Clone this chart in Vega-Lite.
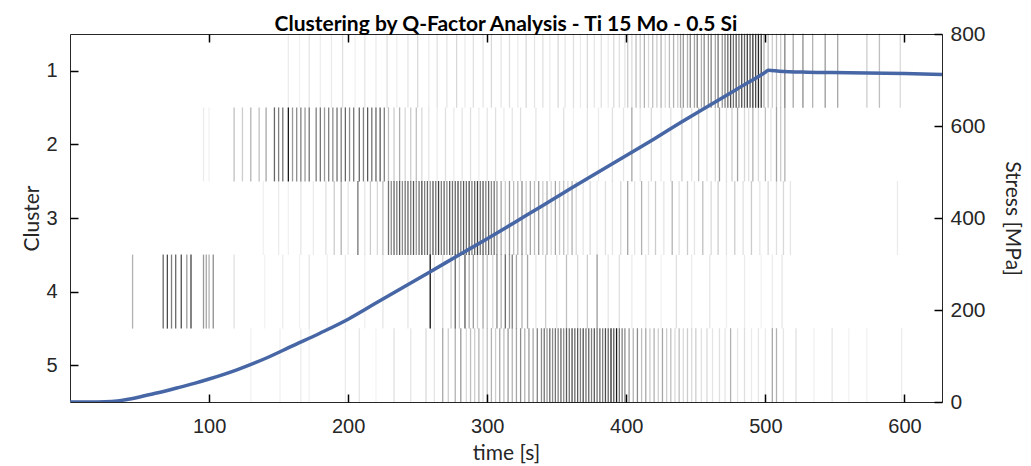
{
  "$schema": "https://vega.github.io/schema/vega-lite/v6.json",
  "width": 872,
  "height": 368,
  "autosize": {"type": "none"},
  "padding": {"left": 70, "top": 34, "right": 89, "bottom": 64},
  "background": "white",
  "config": {"view": {"stroke": "#262626", "strokeWidth": 1}},
  "title": {"text": "Clustering by Q-Factor Analysis - Ti 15 Mo - 0.5 Si", "font": "Lato", "fontWeight": "bold", "fontSize": 21, "color": "#000000", "anchor": "middle", "offset": 4, "dy": 16},
  "datasets": {
    "v": [
      {"c":1,"t":157,"a":0.08},{"c":1,"t":165,"a":0.06},{"c":1,"t":172,"a":0.1},{"c":1,"t":180,"a":0.07},{"c":1,"t":188,"a":0.08},{"c":1,"t":196,"a":0.12},{"c":1,"t":205,"a":0.06},{"c":1,"t":212,"a":0.1},{"c":1,"t":220,"a":0.08},{"c":1,"t":228,"a":0.12},{"c":1,"t":235,"a":0.07},{"c":1,"t":243,"a":0.1},{"c":1,"t":250,"a":0.15},{"c":1,"t":258,"a":0.08},{"c":1,"t":264,"a":0.12},{"c":1,"t":271,"a":0.1},{"c":1,"t":278,"a":0.15},{"c":1,"t":284,"a":0.08},{"c":1,"t":290,"a":0.12},{"c":1,"t":297,"a":0.1},{"c":1,"t":303,"a":0.15},{"c":1,"t":310,"a":0.1},{"c":1,"t":316,"a":0.12},{"c":1,"t":322,"a":0.08},{"c":1,"t":328,"a":0.15},{"c":1,"t":334,"a":0.1},{"c":1,"t":340,"a":0.12},{"c":1,"t":345,"a":0.08},{"c":1,"t":351,"a":0.15},{"c":1,"t":356,"a":0.1},{"c":1,"t":362,"a":0.12},{"c":1,"t":367,"a":0.08},{"c":1,"t":372,"a":0.15},{"c":1,"t":377,"a":0.1},{"c":1,"t":382,"a":0.12},{"c":1,"t":387,"a":0.08},{"c":1,"t":391,"a":0.15},{"c":1,"t":395,"a":0.12},{"c":1,"t":399,"a":0.1},
      {"c":1,"t":401,"a":0.2},{"c":1,"t":404,"a":0.15},{"c":1,"t":407,"a":0.25},{"c":1,"t":410,"a":0.2},{"c":1,"t":413,"a":0.3},{"c":1,"t":416,"a":0.15},{"c":1,"t":419,"a":0.25},{"c":1,"t":422,"a":0.2},{"c":1,"t":425,"a":0.3},{"c":1,"t":428,"a":0.15},{"c":1,"t":431,"a":0.25},{"c":1,"t":434,"a":0.3},{"c":1,"t":437,"a":0.2},
      {"c":1,"t":439,"a":0.35},{"c":1,"t":441,"a":0.4},{"c":1,"t":444,"a":0.3},{"c":1,"t":446,"a":0.45},{"c":1,"t":449,"a":0.35},{"c":1,"t":451,"a":0.5},{"c":1,"t":454,"a":0.3},{"c":1,"t":456,"a":0.45},{"c":1,"t":459,"a":0.4},{"c":1,"t":461,"a":0.5},{"c":1,"t":464,"a":0.35},{"c":1,"t":466,"a":0.55},{"c":1,"t":469,"a":0.4},{"c":1,"t":471,"a":0.5},
      {"c":1,"t":473,"a":0.6},{"c":1,"t":475,"a":0.7},{"c":1,"t":477,"a":0.55},{"c":1,"t":479,"a":0.65},{"c":1,"t":481,"a":0.5},{"c":1,"t":483,"a":0.7},{"c":1,"t":485,"a":0.6},{"c":1,"t":487,"a":0.75},{"c":1,"t":489,"a":0.65},{"c":1,"t":491,"a":0.8},{"c":1,"t":493,"a":0.7},{"c":1,"t":495,"a":0.85},{"c":1,"t":497,"a":0.75},
      {"c":1,"t":499,"a":0.3},{"c":1,"t":502,"a":0.25},{"c":1,"t":505,"a":0.2},{"c":1,"t":508,"a":0.25},{"c":1,"t":511,"a":0.2},
      {"c":1,"t":514,"a":0.5},{"c":1,"t":520,"a":0.35},{"c":1,"t":527,"a":0.45},{"c":1,"t":534,"a":0.3},{"c":1,"t":543,"a":0.4},{"c":1,"t":552,"a":0.35},{"c":1,"t":573,"a":0.2},{"c":1,"t":582,"a":0.25},{"c":1,"t":597,"a":0.15},

      {"c":2,"t":96,"a":0.08},{"c":2,"t":100,"a":0.06},{"c":2,"t":118,"a":0.25},{"c":2,"t":124,"a":0.2},{"c":2,"t":130,"a":0.3},{"c":2,"t":136,"a":0.25},{"c":2,"t":141,"a":0.35},
      {"c":2,"t":147,"a":0.6},{"c":2,"t":150,"a":0.5},{"c":2,"t":153,"a":0.55},{"c":2,"t":157,"a":0.9},{"c":2,"t":160,"a":0.4},{"c":2,"t":163,"a":0.45},{"c":2,"t":166,"a":0.5},{"c":2,"t":169,"a":0.4},{"c":2,"t":172,"a":0.55},
      {"c":2,"t":177,"a":0.5},{"c":2,"t":180,"a":0.55},{"c":2,"t":183,"a":0.4},{"c":2,"t":186,"a":0.5},{"c":2,"t":189,"a":0.45},{"c":2,"t":192,"a":0.55},{"c":2,"t":195,"a":0.5},{"c":2,"t":198,"a":0.6},{"c":2,"t":201,"a":0.45},{"c":2,"t":204,"a":0.55},{"c":2,"t":208,"a":0.6},{"c":2,"t":211,"a":0.5},{"c":2,"t":214,"a":0.65},{"c":2,"t":217,"a":0.55},{"c":2,"t":220,"a":0.6},{"c":2,"t":223,"a":0.65},{"c":2,"t":226,"a":0.5},
      {"c":2,"t":229,"a":0.25},{"c":2,"t":233,"a":0.2},{"c":2,"t":237,"a":0.3},{"c":2,"t":241,"a":0.15},{"c":2,"t":245,"a":0.2},{"c":2,"t":249,"a":0.25},{"c":2,"t":253,"a":0.15},
      {"c":2,"t":258,"a":0.1},{"c":2,"t":264,"a":0.08},{"c":2,"t":270,"a":0.12},{"c":2,"t":276,"a":0.08},{"c":2,"t":282,"a":0.1},{"c":2,"t":288,"a":0.12},{"c":2,"t":294,"a":0.08},{"c":2,"t":300,"a":0.1},{"c":2,"t":306,"a":0.12},{"c":2,"t":312,"a":0.08},{"c":2,"t":318,"a":0.1},{"c":2,"t":324,"a":0.12},
      {"c":2,"t":335,"a":0.1},{"c":2,"t":345,"a":0.08},{"c":2,"t":355,"a":0.12},{"c":2,"t":362,"a":0.06},{"c":2,"t":372,"a":0.1},{"c":2,"t":380,"a":0.08},{"c":2,"t":390,"a":0.12},{"c":2,"t":398,"a":0.1},{"c":2,"t":404,"a":0.35},{"c":2,"t":410,"a":0.1},{"c":2,"t":418,"a":0.15},{"c":2,"t":425,"a":0.08},{"c":2,"t":432,"a":0.12},{"c":2,"t":440,"a":0.2},{"c":2,"t":447,"a":0.1},{"c":2,"t":452,"a":0.25},{"c":2,"t":458,"a":0.12},{"c":2,"t":464,"a":0.15},{"c":2,"t":467,"a":0.4},{"c":2,"t":472,"a":0.12},{"c":2,"t":476,"a":0.2},{"c":2,"t":480,"a":0.35},{"c":2,"t":485,"a":0.15},{"c":2,"t":488,"a":0.12},{"c":2,"t":491,"a":0.3},{"c":2,"t":495,"a":0.15},{"c":2,"t":500,"a":0.25},{"c":2,"t":504,"a":0.1},{"c":2,"t":508,"a":0.35},{"c":2,"t":511,"a":0.2},{"c":2,"t":514,"a":0.3},

      {"c":3,"t":139,"a":0.06},{"c":3,"t":150,"a":0.08},{"c":3,"t":157,"a":0.06},{"c":3,"t":166,"a":0.1},{"c":3,"t":175,"a":0.08},{"c":3,"t":184,"a":0.12},{"c":3,"t":190,"a":0.2},{"c":3,"t":195,"a":0.3},{"c":3,"t":200,"a":0.1},{"c":3,"t":207,"a":0.55},{"c":3,"t":212,"a":0.1},{"c":3,"t":216,"a":0.2},{"c":3,"t":221,"a":0.15},{"c":3,"t":225,"a":0.25},
      {"c":3,"t":229,"a":0.55},{"c":3,"t":231,"a":0.45},{"c":3,"t":233,"a":0.6},{"c":3,"t":235,"a":0.5},{"c":3,"t":237,"a":0.65},{"c":3,"t":239,"a":0.45},{"c":3,"t":241,"a":0.55},{"c":3,"t":243,"a":0.6},{"c":3,"t":245,"a":0.5},{"c":3,"t":247,"a":0.65},{"c":3,"t":249,"a":0.4},{"c":3,"t":251,"a":0.55},{"c":3,"t":253,"a":0.7},{"c":3,"t":255,"a":0.5},{"c":3,"t":257,"a":0.6},{"c":3,"t":259,"a":0.45},{"c":3,"t":261,"a":0.65},{"c":3,"t":263,"a":0.55},{"c":3,"t":265,"a":0.75},{"c":3,"t":267,"a":0.5},{"c":3,"t":269,"a":0.6},{"c":3,"t":271,"a":0.45},{"c":3,"t":273,"a":0.65},{"c":3,"t":275,"a":0.55},{"c":3,"t":277,"a":0.6},{"c":3,"t":279,"a":0.7},{"c":3,"t":281,"a":0.5},{"c":3,"t":283,"a":0.65},{"c":3,"t":285,"a":0.55},{"c":3,"t":287,"a":0.7},{"c":3,"t":289,"a":0.5},{"c":3,"t":291,"a":0.6},{"c":3,"t":293,"a":0.75},{"c":3,"t":295,"a":0.55},{"c":3,"t":297,"a":0.65},{"c":3,"t":299,"a":0.5},{"c":3,"t":301,"a":0.6},{"c":3,"t":303,"a":0.45},{"c":3,"t":305,"a":0.55},{"c":3,"t":307,"a":0.4},
      {"c":3,"t":310,"a":0.35},{"c":3,"t":313,"a":0.2},{"c":3,"t":316,"a":0.4},{"c":3,"t":319,"a":0.25},{"c":3,"t":322,"a":0.3},{"c":3,"t":325,"a":0.45},{"c":3,"t":328,"a":0.2},{"c":3,"t":331,"a":0.35},{"c":3,"t":334,"a":0.25},{"c":3,"t":337,"a":0.4},{"c":3,"t":340,"a":0.2},{"c":3,"t":343,"a":0.3},{"c":3,"t":346,"a":0.15},{"c":3,"t":349,"a":0.35},{"c":3,"t":352,"a":0.2},{"c":3,"t":355,"a":0.25},{"c":3,"t":358,"a":0.15},{"c":3,"t":361,"a":0.3},{"c":3,"t":364,"a":0.15},
      {"c":3,"t":369,"a":0.1},{"c":3,"t":374,"a":0.15},{"c":3,"t":379,"a":0.08},{"c":3,"t":385,"a":0.12},{"c":3,"t":390,"a":0.1},{"c":3,"t":396,"a":0.15},{"c":3,"t":401,"a":0.35},{"c":3,"t":406,"a":0.1},{"c":3,"t":411,"a":0.3},{"c":3,"t":416,"a":0.12},{"c":3,"t":421,"a":0.2},{"c":3,"t":427,"a":0.1},{"c":3,"t":433,"a":0.3},{"c":3,"t":438,"a":0.12},{"c":3,"t":444,"a":0.2},{"c":3,"t":449,"a":0.1},{"c":3,"t":455,"a":0.25},{"c":3,"t":461,"a":0.15},{"c":3,"t":466,"a":0.2},{"c":3,"t":472,"a":0.1},{"c":3,"t":478,"a":0.2},{"c":3,"t":484,"a":0.12},{"c":3,"t":490,"a":0.2},{"c":3,"t":496,"a":0.1},{"c":3,"t":502,"a":0.15},{"c":3,"t":508,"a":0.12},{"c":3,"t":513,"a":0.15},{"c":3,"t":518,"a":0.1},{"c":3,"t":595,"a":0.08},

      {"c":4,"t":45,"a":0.3},{"c":4,"t":67,"a":0.6},{"c":4,"t":70,"a":0.7},{"c":4,"t":73,"a":0.5},{"c":4,"t":76,"a":0.6},{"c":4,"t":80,"a":0.7},{"c":4,"t":84,"a":0.4},{"c":4,"t":87,"a":0.75},{"c":4,"t":96,"a":0.4},{"c":4,"t":98,"a":0.35},{"c":4,"t":100,"a":0.3},{"c":4,"t":103,"a":0.45},{"c":4,"t":118,"a":0.12},{"c":4,"t":140,"a":0.05},{"c":4,"t":153,"a":0.08},{"c":4,"t":165,"a":0.06},{"c":4,"t":172,"a":0.1},{"c":4,"t":185,"a":0.06},{"c":4,"t":198,"a":0.08},{"c":4,"t":212,"a":0.06},{"c":4,"t":225,"a":0.1},{"c":4,"t":243,"a":0.1},
      {"c":4,"t":259,"a":0.95},{"c":4,"t":262,"a":0.1},{"c":4,"t":268,"a":0.15},{"c":4,"t":274,"a":0.2},{"c":4,"t":277,"a":0.6},{"c":4,"t":280,"a":0.2},{"c":4,"t":284,"a":0.65},{"c":4,"t":287,"a":0.3},{"c":4,"t":290,"a":0.4},{"c":4,"t":293,"a":0.2},{"c":4,"t":297,"a":0.35},{"c":4,"t":300,"a":0.25},{"c":4,"t":304,"a":0.15},{"c":4,"t":307,"a":0.45},{"c":4,"t":310,"a":0.3},{"c":4,"t":313,"a":0.6},{"c":4,"t":316,"a":0.4},{"c":4,"t":318,"a":0.5},{"c":4,"t":321,"a":0.35},{"c":4,"t":325,"a":0.3},{"c":4,"t":329,"a":0.35},{"c":4,"t":335,"a":0.1},{"c":4,"t":342,"a":0.2},{"c":4,"t":350,"a":0.1},{"c":4,"t":357,"a":0.25},{"c":4,"t":365,"a":0.15},{"c":4,"t":372,"a":0.2},{"c":4,"t":379,"a":0.4},{"c":4,"t":387,"a":0.1},{"c":4,"t":395,"a":0.12},{"c":4,"t":404,"a":0.08},{"c":4,"t":414,"a":0.1},{"c":4,"t":425,"a":0.06},{"c":4,"t":436,"a":0.12},{"c":4,"t":447,"a":0.08},{"c":4,"t":460,"a":0.1},{"c":4,"t":472,"a":0.06},{"c":4,"t":485,"a":0.08},{"c":4,"t":497,"a":0.06},{"c":4,"t":505,"a":0.08},{"c":4,"t":512,"a":0.1},

      {"c":5,"t":130,"a":0.06},{"c":5,"t":151,"a":0.06},{"c":5,"t":166,"a":0.08},{"c":5,"t":172,"a":0.06},{"c":5,"t":198,"a":0.08},{"c":5,"t":208,"a":0.1},{"c":5,"t":220,"a":0.05},{"c":5,"t":233,"a":0.12},{"c":5,"t":245,"a":0.1},{"c":5,"t":256,"a":0.15},{"c":5,"t":262,"a":0.1},{"c":5,"t":268,"a":0.35},{"c":5,"t":272,"a":0.2},{"c":5,"t":277,"a":0.3},{"c":5,"t":281,"a":0.4},{"c":5,"t":285,"a":0.15},{"c":5,"t":288,"a":0.25},{"c":5,"t":291,"a":0.2},{"c":5,"t":294,"a":0.3},{"c":5,"t":297,"a":0.15},{"c":5,"t":300,"a":0.25},{"c":5,"t":303,"a":0.3},{"c":5,"t":306,"a":0.2},{"c":5,"t":309,"a":0.35},{"c":5,"t":312,"a":0.25},{"c":5,"t":315,"a":0.4},{"c":5,"t":318,"a":0.3},{"c":5,"t":321,"a":0.35},{"c":5,"t":324,"a":0.45},{"c":5,"t":327,"a":0.3},{"c":5,"t":330,"a":0.4},{"c":5,"t":333,"a":0.35},{"c":5,"t":336,"a":0.5},{"c":5,"t":339,"a":0.45},{"c":5,"t":341,"a":0.55},{"c":5,"t":343,"a":0.4},{"c":5,"t":345,"a":0.6},{"c":5,"t":347,"a":0.45},{"c":5,"t":349,"a":0.55},{"c":5,"t":351,"a":0.5},{"c":5,"t":353,"a":0.6},{"c":5,"t":355,"a":0.45},{"c":5,"t":357,"a":0.65},{"c":5,"t":359,"a":0.55},{"c":5,"t":361,"a":0.7},{"c":5,"t":363,"a":0.6},{"c":5,"t":365,"a":0.65},{"c":5,"t":367,"a":0.5},{"c":5,"t":369,"a":0.7},{"c":5,"t":371,"a":0.55},{"c":5,"t":373,"a":0.6},{"c":5,"t":375,"a":0.5},{"c":5,"t":377,"a":0.65},{"c":5,"t":379,"a":0.55},{"c":5,"t":381,"a":0.6},{"c":5,"t":383,"a":0.5},{"c":5,"t":385,"a":0.7},{"c":5,"t":387,"a":0.6},{"c":5,"t":389,"a":0.85},{"c":5,"t":391,"a":0.65},{"c":5,"t":393,"a":0.9},{"c":5,"t":395,"a":0.55},{"c":5,"t":397,"a":0.5},{"c":5,"t":399,"a":0.45},{"c":5,"t":402,"a":0.4},{"c":5,"t":405,"a":0.3},{"c":5,"t":408,"a":0.45},{"c":5,"t":411,"a":0.25},{"c":5,"t":414,"a":0.35},{"c":5,"t":417,"a":0.2},{"c":5,"t":420,"a":0.3},{"c":5,"t":423,"a":0.2},{"c":5,"t":426,"a":0.35},{"c":5,"t":429,"a":0.2},{"c":5,"t":432,"a":0.25},{"c":5,"t":435,"a":0.15},{"c":5,"t":438,"a":0.25},{"c":5,"t":441,"a":0.15},{"c":5,"t":444,"a":0.2},{"c":5,"t":447,"a":0.15},{"c":5,"t":450,"a":0.2},{"c":5,"t":454,"a":0.12},{"c":5,"t":458,"a":0.15},{"c":5,"t":462,"a":0.1},{"c":5,"t":467,"a":0.12},{"c":5,"t":471,"a":0.1},{"c":5,"t":475,"a":0.3},{"c":5,"t":480,"a":0.1},{"c":5,"t":485,"a":0.12},{"c":5,"t":490,"a":0.08},{"c":5,"t":495,"a":0.1},{"c":5,"t":500,"a":0.08},{"c":5,"t":505,"a":0.35},{"c":5,"t":508,"a":0.3},{"c":5,"t":513,"a":0.1},{"c":5,"t":522,"a":0.12},{"c":5,"t":535,"a":0.06},{"c":5,"t":548,"a":0.1},{"c":5,"t":560,"a":0.05},{"c":5,"t":573,"a":0.06},{"c":5,"t":598,"a":0.08}
    ],
    "s": [
      {"t":0,"s":0},{"t":20,"s":0},{"t":30,"s":1},{"t":40,"s":5},{"t":50,"s":11},{"t":60,"s":18},{"t":70,"s":25},{"t":80,"s":33},{"t":90,"s":41},{"t":100,"s":50},{"t":120,"s":70},{"t":140,"s":94},{"t":160,"s":122},{"t":180,"s":150},{"t":200,"s":180},{"t":220,"s":215},{"t":240,"s":250},{"t":260,"s":285},{"t":280,"s":320},{"t":300,"s":355},{"t":320,"s":391},{"t":340,"s":427},{"t":360,"s":464},{"t":380,"s":500},{"t":400,"s":536},{"t":420,"s":572},{"t":440,"s":609},{"t":460,"s":645},{"t":480,"s":681},{"t":500,"s":717},{"t":502,"s":721},{"t":510,"s":719},{"t":530,"s":717},{"t":560,"s":716},{"t":600,"s":714},{"t":627,"s":712}
    ]
  },
  "layer": [
    {
      "data": {"name": "v"},
      "mark": {"type": "tick", "orient": "vertical", "size": 74, "thickness": 1.3, "color": "#000000"},
      "encoding": {
        "x": {"field": "t", "type": "quantitative", "scale": {"domain": [0, 627], "nice": false, "zero": false},
          "axis": {"orient": "bottom", "title": "time [s]", "values": [100,200,300,400,500,600], "grid": false, "domain": false, "ticks": false, "tickSize": 0, "labelPadding": 14, "labelFont": "Liberation Sans", "labelFontSize": 20, "labelColor": "#262626", "titleFont": "Lato", "titleFontSize": 21, "titleFontWeight": "normal", "titleColor": "#262626", "titlePadding": 6}},
        "y": {"field": "c", "type": "quantitative", "scale": {"domain": [0.5, 5.5], "reverse": true, "nice": false, "zero": false},
          "axis": {"orient": "left", "title": "Cluster", "values": [1,2,3,4,5], "grid": false, "domain": false, "ticks": false, "tickSize": 0, "labelPadding": 13, "labelFont": "Liberation Sans", "labelFontSize": 20, "labelColor": "#262626", "titleFont": "Lato", "titleFontSize": 21, "titleFontWeight": "normal", "titleColor": "#262626", "titlePadding": 3}},
        "opacity": {"field": "a", "type": "quantitative", "scale": null}
      }
    },
    {
      "data": {"name": "s"},
      "mark": {"type": "line", "color": "#4666a5", "strokeWidth": 3.5, "interpolate": "monotone", "clip": true},
      "encoding": {
        "x": {"field": "t", "type": "quantitative", "scale": {"domain": [0, 627], "nice": false, "zero": false},
          "axis": {"orient": "top", "title": null, "labels": false, "domain": false, "values": [100,200,300,400,500,600], "grid": false, "ticks": true, "tickColor": "black", "tickWidth": 1.5, "tickSize": 8, "offset": -8, "zindex": 1}},
        "y": {"field": "s", "type": "quantitative", "scale": {"domain": [0, 800], "nice": false},
          "axis": {"orient": "right", "title": "Stress [MPa]", "values": [0,200,400,600,800], "grid": false, "domain": false, "ticks": false, "tickSize": 0, "labelPadding": 8, "labelFont": "Liberation Sans", "labelFontSize": 21, "labelColor": "#262626", "titleFont": "Lato", "titleFontSize": 21, "titleFontWeight": "normal", "titleColor": "#262626", "titlePadding": 16}}
      }
    },
    {
      "data": {"name": "v"},
      "mark": {"type": "point", "opacity": 0},
      "encoding": {
        "x": {"field": "t", "type": "quantitative", "scale": {"domain": [0, 627], "nice": false, "zero": false},
          "axis": {"orient": "bottom", "title": null, "labels": false, "domain": false, "values": [100,200,300,400,500,600], "grid": false, "ticks": true, "tickColor": "black", "tickWidth": 1.5, "tickSize": 8, "offset": -8, "zindex": 1}},
        "y": {"field": "c", "type": "quantitative", "scale": {"domain": [0.5, 5.5], "reverse": true, "nice": false, "zero": false},
          "axis": {"orient": "left", "title": null, "labels": false, "domain": false, "values": [1,2,3,4,5], "grid": false, "ticks": true, "tickColor": "black", "tickWidth": 1.5, "tickSize": 8, "offset": -8, "zindex": 1}}
      }
    },
    {
      "data": {"name": "s"},
      "mark": {"type": "point", "opacity": 0},
      "encoding": {
        "x": {"field": "t", "type": "quantitative", "scale": {"domain": [0, 627], "nice": false, "zero": false}, "axis": null},
        "y": {"field": "s", "type": "quantitative", "scale": {"domain": [0, 800], "nice": false},
          "axis": {"orient": "right", "title": null, "labels": false, "domain": false, "values": [0,200,400,600,800], "grid": false, "ticks": true, "tickColor": "black", "tickWidth": 1.5, "tickSize": 8, "offset": -8, "zindex": 1}}
      }
    }
  ],
  "resolve": {"scale": {"y": "independent"}, "axis": {"x": "independent"}}
}
